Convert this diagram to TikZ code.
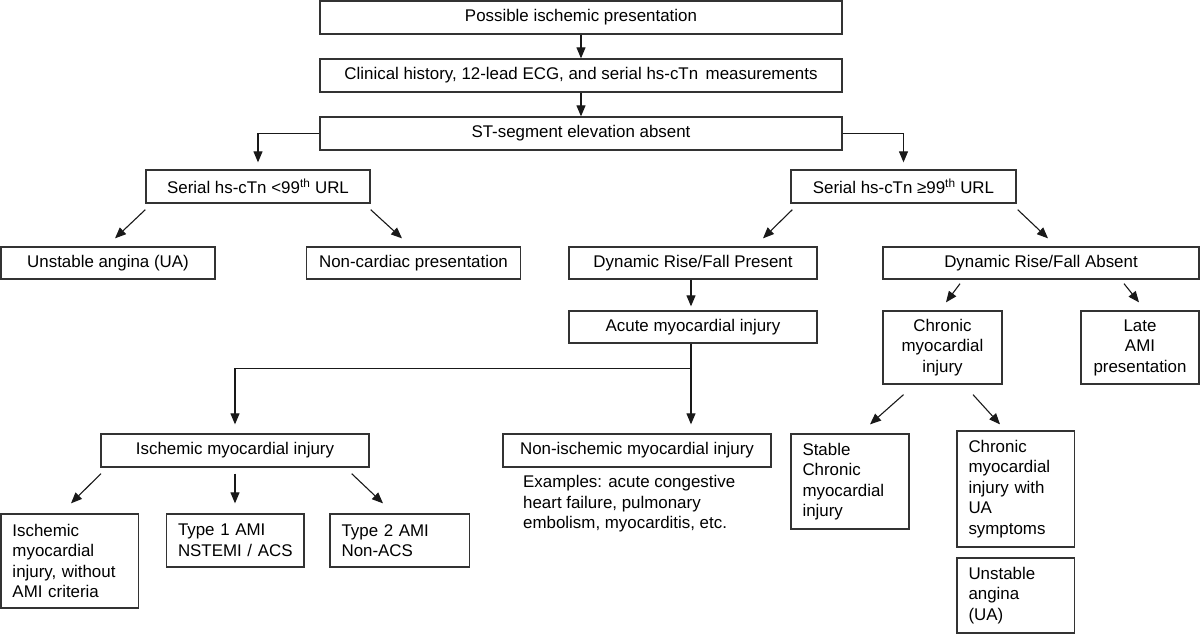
\documentclass[tikz,border=0pt]{standalone}
\usepackage{fontspec}
\setmainfont{Liberation Sans}
\usetikzlibrary{arrows.meta,calc}
\begin{document}
\begin{tikzpicture}[x=1pt,y=-1pt,
  box/.style={draw=black!80,line width=1.3pt,inner sep=0pt,align=center,
    font=\fontsize{16.9}{20.5}\selectfont},
  lbox/.style={box,align=left,inner xsep=11.5pt},
  arr/.style={draw=black!90,line width=1.1pt,-{Triangle[length=11pt,width=9pt]}},
  note/.style={inner sep=0pt,align=left,font=\fontsize{16.9}{20.5}\selectfont}]
\useasboundingbox (0,0) rectangle (1200,635);
\fill[white] (0,0) rectangle (1200,635);
% level boxes
\node[box,minimum width=522pt,minimum height=33pt] (top) at (581,17.5) {Possible ischemic presentation};
\node[box,minimum width=522pt,minimum height=33pt] (clin) at (581,75.5) {Clinical history, 12-lead ECG, and serial hs-cTn\,\ measurements};
\node[box,minimum width=522pt,minimum height=33pt] (st) at (581,133.5) {ST-segment elevation absent};
\node[box,minimum width=224pt,minimum height=33pt] (lt) at (258,186.5) {Serial hs-cTn <99\textsuperscript{th} URL};
\node[box,minimum width=225pt,minimum height=33pt] (ge) at (903.5,186.5) {Serial hs-cTn ≥99\textsuperscript{th} URL};
\node[box,minimum width=214pt,minimum height=32pt] (ua) at (108,263) {Unstable angina (UA)};
\node[box,minimum width=214pt,minimum height=32pt] (nc) at (413.5,263) {Non-cardiac presentation};
\node[box,minimum width=248pt,minimum height=32pt] (drfp) at (693,263) {Dynamic Rise/Fall Present};
\node[box,minimum width=316pt,minimum height=32pt] (drfa) at (1041,263) {Dynamic Rise/Fall Absent};
\node[box,minimum width=248pt,minimum height=32pt] (acute) at (693,327) {Acute myocardial injury};
\node[box,minimum width=119pt,minimum height=73pt] (chr) at (942.5,347.5) {Chronic\\myocardial\\injury};
\node[box,minimum width=118pt,minimum height=73pt] (late) at (1140,347.5) {Late\\AMI\\presentation};
\node[box,minimum width=268pt,minimum height=33pt] (isch) at (235,450.5) {Ischemic myocardial injury};
\node[box,minimum width=268pt,minimum height=33pt] (nonisch) at (637,450.5) {Non-ischemic myocardial injury};
\node[note,anchor=west] (ex) at (523,504) {Examples: acute congestive\\heart failure, pulmonary\\embolism, myocarditis, etc.};
\node[lbox,text width=114.5pt,minimum height=94pt] (noami) at (69.75,561) {Ischemic\\myocardial\\\mbox{injury, without}\\\mbox{AMI criteria}};
\node[lbox,text width=114.5pt,minimum height=53pt] (t1) at (235.25,540.5) {\mbox{Type 1 AMI}\\\mbox{NSTEMI / ACS}};
\node[lbox,text width=116.5pt,minimum height=53pt] (t2) at (399.8,540.5) {\mbox{Type 2 AMI}\\Non-ACS};
\node[lbox,text width=95pt,minimum height=95pt] (stab) at (850,481.5) {Stable\\Chronic\\myocardial\\injury};
\node[lbox,text width=94.5pt,minimum height=116pt] (chrua) at (1015.75,489) {Chronic\\myocardial\\\mbox{injury with}\\UA\\symptoms};
\node[lbox,text width=94.5pt,minimum height=75pt] (ua2) at (1015.75,595.5) {Unstable\\angina\\(UA)};
% connectors
\draw[arr] (top.south) -- (clin.north);
\draw[arr] (clin.south) -- (st.north);
\draw[arr] (st.west) -| ($(lt.north)+(0,-7)$);
\draw[arr] (st.east) -| ($(ge.north)+(0,-7)$);
\draw[arr] ($(lt.south west)+(0,6)$) -- ($(ua.north)+(7,-8)$);
\draw[arr] ($(lt.south east)+(0,6)$) -- ($(nc.north)+(-11.5,-8)$);
\draw[arr] ($(ge.south west)+(2,6)$) -- ($(drfp.north)+(70,-8)$);
\draw[arr] ($(ge.south east)+(1,6)$) -- ($(drfa.north)+(7,-8)$);
\draw[arr] ($(drfp.south)+(-2,0)$) -- ($(acute.north)+(-2,-4)$);
\draw[arr] ($(drfa.south)+(-81,4)$) -- ($(chr.north)+(3.5,-8)$);
\draw[arr] ($(drfa.south)+(83,4)$) -- ($(late.north)+(-1,-8)$);
\coordinate (aj) at ($(acute.south)+(-2,0)$);
\coordinate (hj) at ($(aj)+(0,24.7)$);
\coordinate (nj) at (aj |- nonisch.north);
\draw[arr] (aj) -- ($(nj)+(0,-9)$);
\draw[arr] (hj) -| ($(isch.north)+(0,-9)$);
\draw[arr] ($(isch.south west)+(0.6,6)$) -- ($(noami.north)+(1.25,-10)$);
\draw[arr] ($(isch.south)+(0,6)$) -- ($(t1.north)+(-0.25,-10)$);
\draw[arr] ($(isch.south east)+(-18,6)$) -- ($(t2.north)+(-16.8,-10)$);
\draw[arr] ($(chr.south)+(-39,10)$) -- ($(stab.north)+(20,-9)$);
\draw[arr] ($(chr.south)+(30.5,10)$) -- ($(chrua.north)+(-15.75,-6)$);
\end{tikzpicture}
\end{document}
